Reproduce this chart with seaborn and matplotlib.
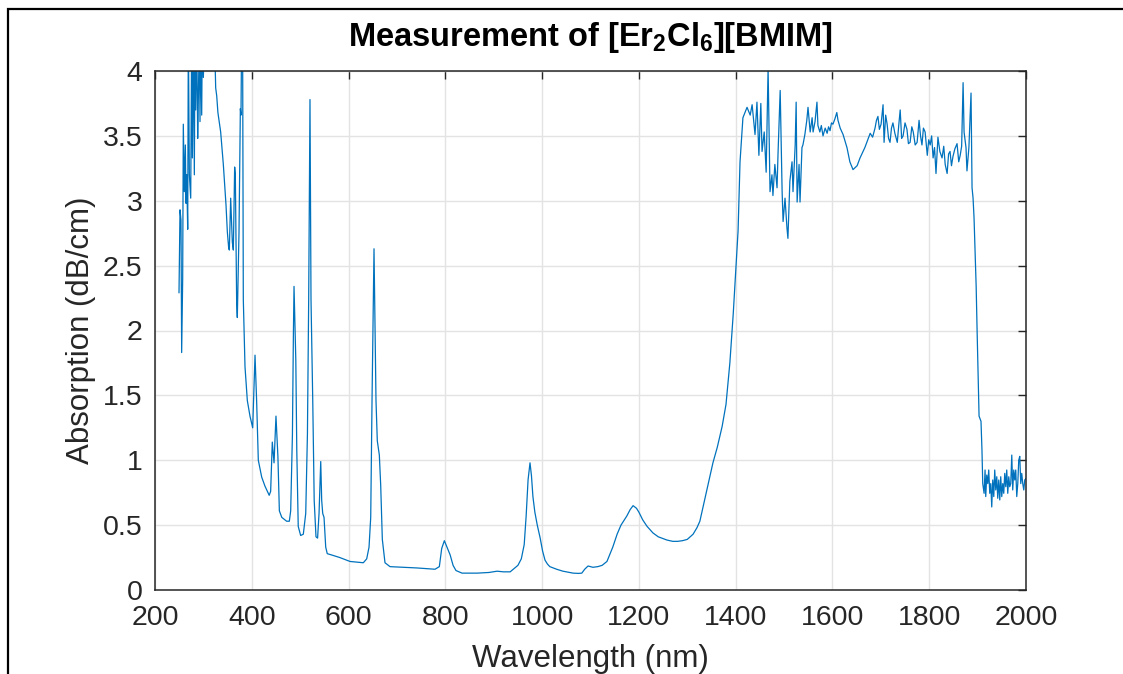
import numpy as np
import pandas as pd
import matplotlib
matplotlib.use("Agg")
import matplotlib.pyplot as plt
import seaborn as sns
from matplotlib.patches import Rectangle

# ---------------- data ----------------
wavelength = [
    249.6, 251.7, 253.7, 255.1, 257.2, 258.5, 260.6, 262.7, 264.1, 265.5,
    267.6, 268.9, 271.0, 273.8, 275.8, 277.2, 279.2, 281.3, 282.7, 284.1,
    286.2, 288.2, 289.5, 291.6, 293.0, 294.4, 296.5, 297.8, 299.9, 301.9,
    310.0, 318.0, 324.0, 325.4, 327.5, 330.0, 333.0, 335.7, 341.2, 346.7,
    349.5, 352.2, 353.6, 356.4, 359.8, 361.9, 364.6, 366.0, 368.8, 370.1,
    373.6, 376.4, 377.7, 379.1, 381.0, 382.5, 386.0, 390.8, 396.3, 401.9,
    406.7, 410.0, 413.5, 420.5, 427.3, 436.0, 439.0, 442.4, 446.0, 450.0,
    454.0, 457.0, 462.0, 472.0, 477.6, 480.4, 484.0, 486.0, 487.3, 491.0,
    493.0, 496.0, 501.0, 506.5, 511.5, 515.0, 517.6, 520.3, 522.4, 526.0,
    529.0, 532.7, 536.0, 539.0, 542.5, 544.5, 546.6, 549.3, 552.8, 556.0,
    565.0, 582.0, 603.0, 630.5, 637.5, 642.3, 645.8, 648.5, 652.6, 656.7,
    659.4, 663.6, 666.4, 669.8, 675.3, 685.7, 741.0, 778.7, 787.6, 792.5,
    798.0, 803.5, 810.0, 816.0, 822.0, 834.5, 865.5, 890.0, 907.0, 920.0,
    934.0, 950.0, 957.0, 963.0, 967.0, 971.0, 975.0, 978.0, 981.0, 985.0,
    990.0, 996.0, 1001.0, 1006.0, 1011.0, 1016.0, 1030.0, 1043.0, 1064.0, 1075.0,
    1082.0, 1088.0, 1095.0, 1100.0, 1105.0, 1115.0, 1124.0, 1134.0, 1146.0, 1155.0,
    1163.0, 1175.0, 1182.0, 1188.0, 1195.0, 1200.0, 1208.0, 1217.0, 1229.0, 1240.0,
    1258.0, 1270.0, 1280.0, 1290.0, 1300.0, 1312.0, 1320.0, 1326.0, 1335.0, 1345.0,
    1353.0, 1362.0, 1372.0, 1380.0,
    1388.0, 1395.0, 1401.0, 1405.0, 1409.0, 1415.0, 1423.5, 1430.0, 1434.0, 1440.0,
    1444.0, 1448.0, 1452.0, 1454.5, 1459.0, 1463.0, 1467.0, 1471.0, 1475.0, 1477.0,
    1481.0, 1485.5, 1487.6, 1492.0, 1496.0, 1498.0, 1502.0, 1506.0, 1508.0, 1512.0,
    1516.5, 1518.5, 1523.0, 1525.0, 1527.0, 1531.0, 1533.0, 1537.0, 1539.0, 1543.0,
    1547.0, 1549.5, 1554.0, 1558.0, 1560.0, 1564.0, 1568.0, 1570.0, 1574.0, 1577.0,
    1580.5, 1585.0, 1589.0, 1592.0, 1595.0, 1598.0, 1601.0, 1605.0, 1609.0, 1611.5,
    1616.0, 1622.0, 1630.0, 1636.0, 1642.5, 1651.0, 1657.0, 1662.0, 1667.0, 1672.0,
    1678.0, 1683.0, 1688.0, 1691.0, 1694.0, 1697.0, 1700.5, 1704.6, 1706.7, 1710.0,
    1713.0, 1716.0, 1719.0, 1722.0, 1725.0, 1729.0, 1734.0, 1737.0, 1740.0, 1743.0,
    1746.0, 1750.0, 1754.0, 1757.0, 1760.5, 1764.0, 1767.0, 1771.0, 1775.0, 1779.0,
    1782.0, 1785.0, 1788.0, 1791.5, 1796.0, 1799.0, 1802.0, 1805.0, 1808.0, 1811.0,
    1814.0, 1818.0, 1822.0, 1826.5, 1830.0, 1833.0, 1837.0, 1840.0, 1843.0, 1846.0,
    1849.0, 1853.0, 1857.5, 1861.0, 1864.0, 1867.0, 1870.0, 1872.0, 1876.0, 1878.0,
    1882.0, 1886.4,
    1888.5, 1890.6, 1892.6, 1897.0, 1899.0, 1903.0, 1907.0, 1909.0, 1910.6, 1913.4,
    1915.4, 1916.8, 1918.9, 1921.0, 1923.0, 1925.1, 1927.2, 1929.2, 1931.3, 1933.4,
    1935.4, 1937.5, 1939.6, 1941.6, 1943.7, 1945.8, 1947.8, 1949.9, 1952.0, 1954.0,
    1956.1, 1958.2, 1960.2, 1962.3, 1964.4, 1966.4, 1968.5, 1970.6, 1972.6, 1974.7,
    1976.8, 1978.8, 1980.9, 1983.0, 1985.0, 1987.1, 1989.2, 1991.2, 1993.3, 1995.4,
    1997.4, 2000.0,
]
absorption = [
    2.29, 2.93, 2.85, 1.83, 2.40, 3.59, 3.07, 3.43, 2.98, 3.20,
    2.78, 4.30, 3.20, 3.02, 4.30, 3.33, 4.30, 3.20, 4.30, 3.70,
    4.30, 3.48, 3.76, 4.30, 3.61, 4.30, 3.66, 4.30, 3.95, 4.20,
    4.50, 4.40, 4.10, 3.87, 3.81, 3.68, 3.60, 3.53, 3.28, 2.97,
    2.76, 2.64, 2.62, 3.02, 2.68, 2.62, 3.26, 3.20, 2.20, 2.10,
    2.76, 3.71, 3.66, 4.30, 4.30, 2.24, 1.72, 1.46, 1.34, 1.25,
    1.81, 1.46, 1.00, 0.87, 0.80, 0.73, 0.76, 1.14, 0.98, 1.34,
    1.03, 0.61, 0.56, 0.53, 0.53, 0.61, 1.20, 1.97, 2.34, 1.77,
    1.08, 0.49, 0.42, 0.43, 0.59, 1.20, 2.24, 3.78, 2.24, 1.46,
    0.69, 0.41, 0.40, 0.59, 0.99, 0.69, 0.59, 0.56, 0.33, 0.28,
    0.27, 0.25, 0.22, 0.21, 0.24, 0.33, 0.56, 1.46, 2.63, 1.46,
    1.15, 1.04, 0.81, 0.39, 0.21, 0.18, 0.17, 0.16, 0.18, 0.32,
    0.38, 0.33, 0.27, 0.19, 0.15, 0.13, 0.13, 0.135, 0.145, 0.14,
    0.14, 0.19, 0.24, 0.35, 0.57, 0.85, 0.98, 0.88, 0.72, 0.60,
    0.50, 0.40, 0.30, 0.23, 0.20, 0.18, 0.16, 0.145, 0.13, 0.128,
    0.13, 0.16, 0.185, 0.18, 0.175, 0.18, 0.19, 0.22, 0.33, 0.43,
    0.50, 0.57, 0.62, 0.65, 0.63, 0.60, 0.54, 0.49, 0.44, 0.41,
    0.385, 0.375, 0.375, 0.38, 0.39, 0.43, 0.48, 0.53, 0.68, 0.85,
    0.98, 1.10, 1.26, 1.43,
    1.75, 2.13, 2.52, 2.77, 3.30, 3.64, 3.72, 3.66, 3.74, 3.51,
    3.76, 3.35, 3.75, 3.38, 3.53, 3.22, 4.02, 3.07, 3.20, 3.04,
    3.28, 3.10, 3.37, 3.85, 3.07, 2.84, 3.02, 2.79, 2.71, 3.15,
    3.30, 3.07, 3.43, 3.76, 2.99, 3.28, 2.99, 3.41, 3.43, 3.51,
    3.62, 3.72, 3.53, 3.64, 3.53, 3.61, 3.76, 3.58, 3.53, 3.58,
    3.50, 3.56, 3.52, 3.57, 3.54, 3.60, 3.59, 3.63, 3.68, 3.62,
    3.56, 3.51, 3.41, 3.30, 3.24, 3.27, 3.33, 3.37, 3.41, 3.46,
    3.52, 3.49, 3.56, 3.62, 3.65, 3.55, 3.59, 3.74, 3.45, 3.66,
    3.59, 3.48, 3.45, 3.56, 3.60, 3.52, 3.45, 3.58, 3.70, 3.48,
    3.50, 3.60, 3.55, 3.44, 3.45, 3.57, 3.53, 3.43, 3.45, 3.62,
    3.50, 3.43, 3.56, 3.53, 3.35, 3.47, 3.43, 3.50, 3.33, 3.41,
    3.21, 3.49, 3.38, 3.33, 3.42, 3.28, 3.21, 3.36, 3.38, 3.27,
    3.34, 3.40, 3.44, 3.30, 3.35, 3.42, 3.91, 3.53, 3.41, 3.23,
    3.41, 3.83,
    3.10, 3.02, 2.87, 2.34, 1.99, 1.34, 1.30, 1.08, 0.82, 0.745,
    0.925, 0.72, 0.886, 0.82, 0.925, 0.745, 0.82, 0.64, 0.848, 0.72,
    0.925, 0.771, 0.873, 0.707, 0.848, 0.694, 0.873, 0.72, 0.82, 0.745,
    0.899, 0.796, 0.925, 0.745, 0.873, 0.796, 0.82, 1.04, 0.771, 0.925,
    0.848, 0.925, 0.72, 0.82, 1.00, 1.03, 0.82, 0.899, 0.82, 0.771,
    0.848, 0.86,
]
x_ticks = [200, 400, 600, 800, 1000, 1200, 1400, 1600, 1800, 2000]
y_ticks = [0, 0.5, 1, 1.5, 2, 2.5, 3, 3.5, 4]
y_tick_labels = ["0", "0.5", "1", "1.5", "2", "2.5", "3", "3.5", "4"]
title_text = r"Measurement of [Er$_\mathbf{2}$Cl$_\mathbf{6}$][BMIM]"
x_label = "Wavelength (nm)"
y_label = "Absorption (dB/cm)"

df = pd.DataFrame({"wavelength": wavelength, "absorption": absorption})

# ---------------- style ----------------
sns.set_theme(style="white")
plt.rcParams["font.family"] = ["Liberation Sans", "DejaVu Sans"]
plt.rcParams["mathtext.fontset"] = "custom"
plt.rcParams["mathtext.rm"] = "Liberation Sans"
plt.rcParams["mathtext.bf"] = "Liberation Sans:bold"
plt.rcParams["mathtext.it"] = "Liberation Sans:italic"

txt = "#262626"
fig = plt.figure(figsize=(11.23, 6.74), dpi=100)
fig.patch.set_facecolor("white")
ax = fig.add_axes([155 / 1123, 1 - 590 / 674, (1026 - 155) / 1123, (590 - 71) / 674])

sns.lineplot(data=df, x="wavelength", y="absorption", ax=ax, color="#0072BD",
             linewidth=0.9, estimator=None, sort=False)

ax.set_xlim(200, 2000)
ax.set_ylim(0, 4)
ax.set_xticks(x_ticks)
ax.set_yticks(y_ticks)
ax.set_yticklabels(y_tick_labels)
ax.grid(True, color="#e3e3e3", linewidth=1.0)
ax.set_axisbelow(True)
for s in ax.spines.values():
    s.set_color(txt)
    s.set_linewidth(1.1)
ax.tick_params(axis="both", direction="in", length=6, width=1.0, color=txt,
               labelsize=20.5, labelcolor=txt, top=True, right=True)
ax.tick_params(axis="x", pad=11)
ax.tick_params(axis="y", pad=9)
ax.set_xlabel(x_label, fontsize=22.5, color=txt, labelpad=9)
ax.set_ylabel(y_label, fontsize=22.5, color=txt, labelpad=5)
ax.set_title(title_text, fontsize=23.5, fontweight="bold", color="black", pad=18)

# figure frame (left and top edges visible)
fig.add_artist(Rectangle((8 / 1123, -0.05), 1.2, 1 - 9 / 674 + 0.05,
                         transform=fig.transFigure, fill=False,
                         edgecolor="black", linewidth=1.6))

fig.savefig("out.png", dpi=100)
